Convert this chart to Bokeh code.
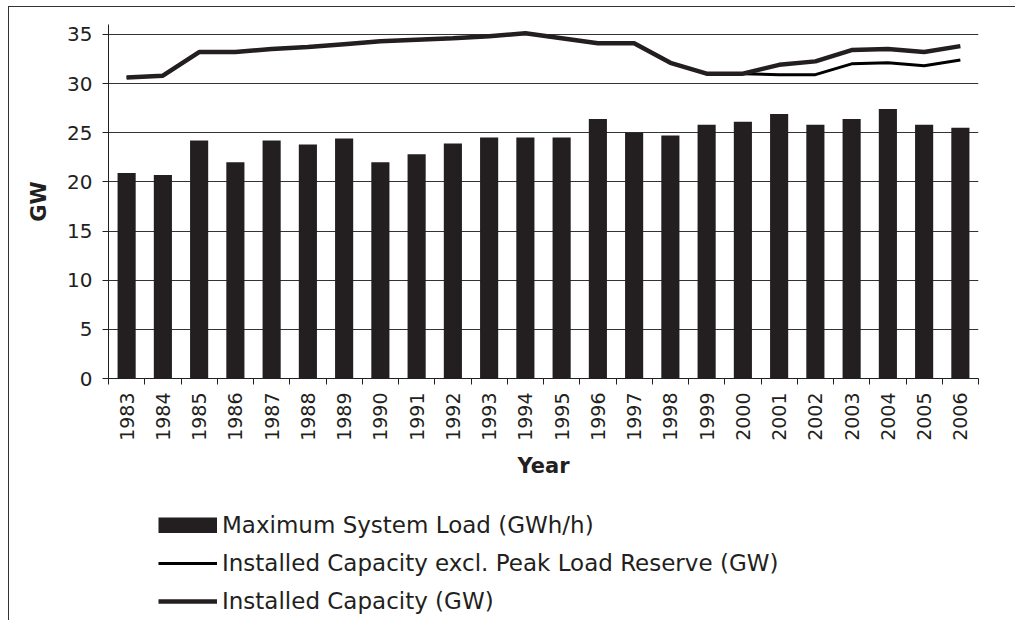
import math
from bokeh.plotting import figure
from bokeh.layouts import column
from bokeh.models import FixedTicker, Legend, LegendItem, Range1d, ColumnDataSource
from bokeh.embed import file_html
from bokeh.resources import INLINE

years = [1983, 1984, 1985, 1986, 1987, 1988, 1989, 1990, 1991, 1992, 1993, 1994,
         1995, 1996, 1997, 1998, 1999, 2000, 2001, 2002, 2003, 2004, 2005, 2006]
max_load = [20.9, 20.7, 24.2, 22.0, 24.2, 23.8, 24.4, 22.0, 22.8, 23.9, 24.5, 24.5,
            24.5, 26.4, 25.0, 24.7, 25.8, 26.1, 26.9, 25.8, 26.4, 27.4, 25.8, 25.5]
cap_excl = [30.6, 30.8, 33.2, 33.2, 33.5, 33.7, 34.0, 34.3, 34.45, 34.6, 34.8, 35.1,
            34.6, 34.1, 34.1, 32.1, 31.0, 31.0, 30.9, 30.9, 32.0, 32.1, 31.8, 32.4]
cap_total = [30.6, 30.8, 33.2, 33.2, 33.5, 33.7, 34.0, 34.3, 34.45, 34.6, 34.8, 35.1,
             34.6, 34.1, 34.1, 32.1, 31.0, 31.0, 31.9, 32.25, 33.4, 33.5, 33.2, 33.8]
y_ticks = [0, 5, 10, 15, 20, 25, 30, 35]
series_names = ["Maximum System Load (GWh/h)",
                "Installed Capacity excl. Peak Load Reserve (GW)",
                "Installed Capacity (GW)"]

FONT = "DejaVu Sans"
INK = "#231f20"

src = ColumnDataSource(dict(year=years, load=max_load, excl=cap_excl, total=cap_total))

p = figure(width=1006, height=483, output_backend="svg", toolbar_location=None,
           x_range=Range1d(years[0] - 0.5, years[-1] + 0.5), y_range=Range1d(0, 36),
           min_border_left=99, min_border_right=37, min_border_top=17, min_border_bottom=112)
p.outline_line_color = None

p.vbar(x="year", top="load", source=src, width=0.5, fill_color=INK, line_color=None)
p.line("year", "excl", source=src, line_color="#000000", line_width=3)
p.line("year", "total", source=src, line_color=INK, line_width=4.5)

p.xgrid.grid_line_color = None
p.ygrid.grid_line_color = "#333333"
p.ygrid.ticker = FixedTicker(ticks=y_ticks)

xa = p.xaxis[0]
xa.ticker = FixedTicker(ticks=years, minor_ticks=[y - 0.5 for y in years] + [years[-1] + 0.5])
xa.minor_tick_out = 6
xa.minor_tick_in = 0
xa.minor_tick_line_color = INK
xa.major_label_orientation = math.pi / 2
xa.major_label_standoff = 8
xa.axis_label = "Year"
xa.axis_label_standoff = 10

ya = p.yaxis[0]
ya.ticker = FixedTicker(ticks=y_ticks)
ya.major_tick_out = 6
ya.major_tick_in = 0
ya.minor_tick_line_color = None
ya.major_label_standoff = 10
ya.axis_label = "GW"
ya.axis_label_standoff = 13

for ax in (xa, ya):
    ax.axis_line_color = INK
    ax.major_tick_line_color = INK if ax is ya else None
    ax.major_label_text_font = FONT
    ax.major_label_text_color = INK
    ax.axis_label_text_font = FONT
    ax.axis_label_text_font_size = "21px"
    ax.axis_label_text_font_style = "bold"
    ax.axis_label_text_color = INK
xa.major_label_text_font_size = "19px"
ya.major_label_text_font_size = "20px"

# legend panel: its y-range lies above all data, so the series are clipped away
# and only the legend swatches and labels show
lg = figure(width=1006, height=130, output_backend="svg", toolbar_location=None,
            x_range=Range1d(years[0] - 0.5, years[-1] + 0.5), y_range=Range1d(100, 136),
            x_axis_type=None, y_axis_type=None, min_border=0)
lg.outline_line_color = None
lg.grid.visible = False
r_bar = lg.line("year", "load", source=src, line_color=INK, line_width=16, line_cap="butt")
r_excl = lg.line("year", "excl", source=src, line_color="#000000", line_width=3)
r_tot = lg.line("year", "total", source=src, line_color=INK, line_width=4.5)

legend = Legend(items=[
    LegendItem(label=series_names[0], renderers=[r_bar]),
    LegendItem(label=series_names[1], renderers=[r_excl]),
    LegendItem(label=series_names[2], renderers=[r_tot]),
], location=(50, 5), orientation="vertical")
legend.glyph_width = 59
legend.glyph_height = 16
legend.label_height = 28
legend.spacing = 10
legend.padding = 0
legend.margin = 0
legend.label_standoff = 5
legend.border_line_color = None
legend.background_fill_alpha = 0
legend.label_text_font = FONT
legend.label_text_font_size = "23px"
legend.label_text_color = INK
lg.add_layout(legend, "center")

layout = column(p, lg, spacing=0,
                styles={"margin-left": "8px", "margin-top": "6px",
                        "border-left": "1px solid #333333", "border-top": "1px solid #333333"})

open("out.html", "w").write(file_html(layout, INLINE))
